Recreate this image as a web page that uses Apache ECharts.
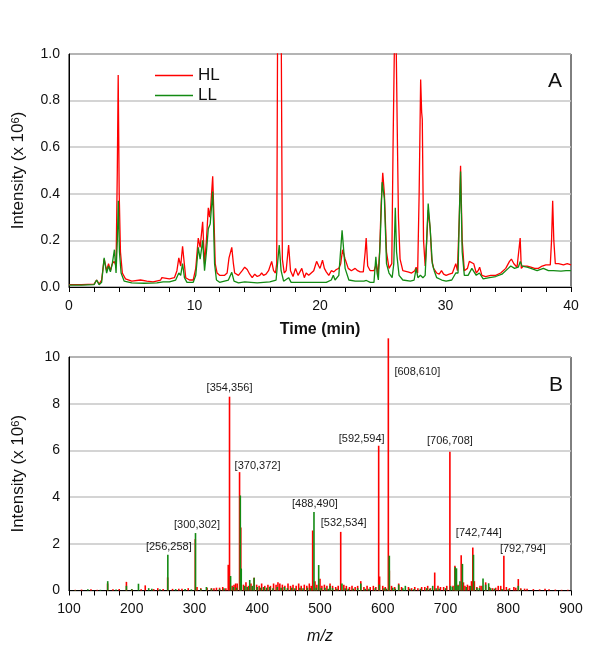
<!DOCTYPE html>
<html>
<head>
<meta charset="utf-8">
<script src="https://cdn.jsdelivr.net/npm/echarts@6/dist/echarts.min.js"></script>
<style>html,body{margin:0;padding:0;background:#fff}#c{width:600px;height:648px}</style>
</head>
<body>
<div id="c"></div>
<script>
// ---------- Panel A: chromatogram (time in min, intensity x10^6) ----------
const hlTrace = [[0,0.01],[1.0,0.01],[2.0,0.012],[2.2,0.03],[2.4,0.012],[2.6,0.03],[2.8,0.12],[3.0,0.07],[3.15,0.10],[3.3,0.07],[3.45,0.10],[3.6,0.11],[3.75,0.09],[3.85,0.5],[3.92,0.91],[4.0,0.4],[4.1,0.15],[4.25,0.06],[4.5,0.035],[5.0,0.025],[5.7,0.03],[6.2,0.025],[6.7,0.022],[7.3,0.03],[7.4,0.04],[7.5,0.032],[8.0,0.035],[8.4,0.04],[8.6,0.07],[8.75,0.125],[8.9,0.09],[9.05,0.175],[9.15,0.12],[9.3,0.04],[9.6,0.03],[9.9,0.03],[10.1,0.08],[10.3,0.21],[10.45,0.17],[10.65,0.28],[10.8,0.1],[10.95,0.2],[11.1,0.34],[11.2,0.3],[11.3,0.35],[11.45,0.475],[11.55,0.3],[11.65,0.1],[11.8,0.06],[12.0,0.05],[12.4,0.05],[12.6,0.06],[12.75,0.125],[12.85,0.12],[12.97,0.17],[13.1,0.1],[13.2,0.06],[13.5,0.05],[13.8,0.07],[14.0,0.085],[14.2,0.075],[14.4,0.055],[14.6,0.04],[14.8,0.055],[15.0,0.045],[15.2,0.05],[15.35,0.06],[15.5,0.05],[15.7,0.055],[15.9,0.07],[16.15,0.11],[16.3,0.07],[16.45,0.06],[16.55,0.1],[16.65,1.5],[16.8,1.6],[16.92,1.0],[17.0,0.12],[17.15,0.06],[17.3,0.07],[17.5,0.18],[17.65,0.07],[17.85,0.045],[18.05,0.08],[18.25,0.05],[18.4,0.045],[18.55,0.08],[18.75,0.04],[18.9,0.06],[19.1,0.05],[19.3,0.06],[19.5,0.07],[19.73,0.11],[19.9,0.09],[20.0,0.08],[20.2,0.115],[20.35,0.08],[20.5,0.065],[20.7,0.05],[20.9,0.07],[21.1,0.065],[21.3,0.075],[21.5,0.08],[21.65,0.1],[21.8,0.16],[22.0,0.12],[22.25,0.08],[22.5,0.07],[22.8,0.08],[23.0,0.07],[23.2,0.065],[23.45,0.065],[23.6,0.15],[23.68,0.21],[23.8,0.09],[24.0,0.07],[24.3,0.07],[24.5,0.1],[24.62,0.05],[24.75,0.15],[24.87,0.35],[25.0,0.49],[25.13,0.4],[25.3,0.15],[25.5,0.08],[25.72,0.1],[25.82,0.6],[25.92,1.0],[26.0,1.05],[26.08,1.0],[26.15,0.7],[26.25,0.3],[26.38,0.12],[26.6,0.07],[27.0,0.065],[27.3,0.06],[27.55,0.07],[27.66,0.085],[27.78,0.06],[27.9,0.4],[28.02,0.89],[28.1,0.75],[28.15,0.72],[28.25,0.2],[28.38,0.09],[28.5,0.2],[28.62,0.33],[28.78,0.25],[28.9,0.12],[29.05,0.08],[29.3,0.06],[29.5,0.055],[29.68,0.07],[29.85,0.055],[30.05,0.05],[30.3,0.055],[30.55,0.06],[30.82,0.1],[30.95,0.07],[31.1,0.3],[31.2,0.52],[31.33,0.2],[31.5,0.07],[31.75,0.08],[31.9,0.11],[32.05,0.115],[32.25,0.1],[32.45,0.06],[32.6,0.07],[32.72,0.085],[32.9,0.05],[33.2,0.045],[33.6,0.05],[34.0,0.05],[34.4,0.06],[34.8,0.08],[35.1,0.11],[35.25,0.12],[35.45,0.1],[35.7,0.085],[35.85,0.09],[35.95,0.21],[36.04,0.08],[36.2,0.09],[36.5,0.09],[36.8,0.085],[37.1,0.08],[37.4,0.08],[37.7,0.09],[38.0,0.095],[38.35,0.095],[38.45,0.2],[38.54,0.37],[38.63,0.2],[38.75,0.1],[39.0,0.1],[39.15,0.105],[39.4,0.095],[39.7,0.1],[40.0,0.095]];

const llTrace = [[0,0.008],[1.0,0.008],[2.0,0.01],[2.2,0.03],[2.4,0.01],[2.6,0.02],[2.8,0.125],[3.0,0.06],[3.15,0.09],[3.3,0.065],[3.45,0.1],[3.62,0.16],[3.75,0.06],[3.85,0.2],[3.93,0.37],[4.02,0.15],[4.15,0.06],[4.4,0.025],[5.0,0.018],[6.0,0.016],[7.0,0.018],[7.5,0.022],[8.0,0.022],[8.5,0.03],[8.75,0.06],[8.9,0.05],[9.05,0.1],[9.2,0.04],[9.4,0.02],[9.9,0.02],[10.1,0.05],[10.3,0.17],[10.45,0.12],[10.65,0.2],[10.8,0.07],[10.95,0.15],[11.1,0.25],[11.25,0.27],[11.45,0.41],[11.6,0.1],[11.75,0.03],[12.0,0.02],[12.7,0.03],[12.97,0.063],[13.15,0.025],[13.5,0.018],[14.0,0.022],[15.0,0.018],[16.0,0.022],[16.5,0.03],[16.75,0.18],[16.9,0.07],[17.1,0.025],[17.5,0.04],[17.7,0.02],[18.5,0.02],[19.5,0.02],[20.5,0.02],[20.9,0.03],[21.06,0.05],[21.2,0.03],[21.5,0.05],[21.76,0.243],[21.9,0.15],[22.0,0.08],[22.3,0.03],[22.8,0.025],[23.5,0.025],[23.7,0.028],[24.0,0.02],[24.3,0.02],[24.45,0.13],[24.55,0.06],[24.65,0.03],[24.8,0.2],[24.95,0.45],[25.13,0.38],[25.3,0.1],[25.5,0.06],[25.75,0.04],[25.88,0.1],[26.0,0.34],[26.1,0.15],[26.3,0.05],[26.6,0.03],[27.2,0.025],[27.5,0.03],[27.66,0.08],[27.8,0.04],[28.0,0.05],[28.2,0.04],[28.38,0.05],[28.5,0.2],[28.62,0.358],[28.78,0.25],[28.95,0.1],[29.1,0.07],[29.3,0.04],[29.7,0.03],[30.05,0.025],[30.5,0.03],[30.82,0.06],[31.0,0.06],[31.1,0.3],[31.2,0.496],[31.33,0.15],[31.5,0.05],[31.8,0.05],[32.1,0.08],[32.23,0.08],[32.45,0.05],[32.7,0.06],[33.0,0.035],[33.5,0.04],[34.0,0.045],[34.5,0.055],[35.0,0.08],[35.2,0.09],[35.5,0.08],[35.8,0.085],[35.96,0.11],[36.1,0.09],[36.5,0.085],[36.8,0.08],[37.3,0.07],[37.8,0.08],[38.2,0.07],[38.6,0.07],[39.2,0.068],[39.6,0.07],[40,0.07]];

// ---------- Panel B: mass spectrum (m/z, intensity x10^6) ----------
const hlMajorPeaks = [[161.5,0.3],[191.5,0.37],[221.5,0.22],[241.5,0.1],[257.2,0.56],[280,0.08],[301.2,2.2],[304,0.15],[331,0.1],[353.8,1.1],[355.8,8.3],[365.5,0.3],[371.8,5.07],[373.8,2.7],[395,0.55],[433,0.35],[488.3,2.57],[492,0.4],[500,0.5],[516,0.3],[533,2.51],[565,0.4],[593.5,6.2],[595,0.6],[608.9,10.8],[610.5,0.85],[625.4,0.3],[662,0.15],[671.6,0.2],[682.8,0.77],[707,5.94],[715,1.06],[717,0.9],[725,1.51],[728.6,0.35],[741.4,0.4],[743.5,1.84],[746,0.4],[755,0.2],[764,0.35],[784,0.2],[793,1.49],[809,0.15],[816,0.49],[826,0.08],[858.6,0.08]];
const hlMinorPeaks = [[110,0.03],[120,0.04],[135,0.05],[145,0.03],[170,0.05],[180,0.06],[200,0.06],[215,0.05],[235,0.06],[250,0.06],[265,0.07],[275,0.08],[290,0.1],[310,0.1],[320,0.12],[327,0.1],[335,0.12],[340,0.12],[345,0.15],[350,0.1],[360,0.2],[363,0.25],[368,0.3],[378,0.25],[382,0.35],[386,0.2],[390,0.3],[399,0.25],[403,0.2],[407,0.3],[412,0.2],[417,0.25],[421,0.2],[426,0.3],[430,0.25],[436,0.3],[440,0.25],[444,0.2],[449,0.3],[453,0.2],[457,0.25],[462,0.2],[466,0.3],[470,0.2],[475,0.25],[479,0.2],[483,0.3],[486,0.2],[495,0.25],[503,0.2],[507,0.25],[511,0.2],[520,0.2],[525,0.15],[529,0.2],[538,0.25],[542,0.2],[547,0.15],[551,0.2],[556,0.15],[560,0.2],[570,0.15],[575,0.2],[580,0.15],[585,0.2],[589,0.15],[600,0.2],[604,0.15],[614,0.2],[619,0.15],[630,0.15],[641,0.15],[646,0.1],[651,0.15],[656,0.1],[667,0.15],[676,0.1],[688,0.2],[692,0.15],[697,0.15],[702,0.2],[712,0.2],[720,0.25],[731,0.2],[735,0.25],[738,0.2],[750,0.15],[758,0.2],[770,0.15],[775,0.1],[780,0.12],[788,0.2],[797,0.15],[802,0.1],[812,0.12],[820,0.1],[830,0.08],[840,0.06],[850,0.05],[865,0.05],[875,0.04],[885,0.03],[895,0.03]];

const llMajorPeaks = [[161.7,0.4],[191.5,0.2],[210.7,0.29],[227,0.1],[257.5,1.53],[301.6,2.46],[319,0.15],[357.5,0.62],[373.0,4.07],[374.5,0.94],[388,0.45],[395,0.55],[490.4,3.36],[497.9,1.09],[516,0.2],[535,0.3],[565,0.3],[594.6,0.25],[610.5,1.49],[625.4,0.25],[636,0.2],[679.6,0.2],[708,0.2],[715.5,1.0],[717.5,0.95],[723,0.4],[727,1.14],[744.6,1.53],[759.8,0.51],[764,0.25],[768.8,0.31],[816,0.2]];
const llMinorPeaks = [[110,0.02],[130,0.05],[150,0.03],[175,0.04],[200,0.06],[232,0.08],[245,0.05],[270,0.06],[285,0.06],[295,0.05],[310,0.07],[327,0.08],[340,0.07],[347,0.1],[362,0.15],[367,0.12],[380,0.2],[384,0.15],[392,0.2],[400,0.15],[405,0.12],[410,0.15],[415,0.12],[420,0.15],[425,0.1],[432,0.15],[438,0.12],[443,0.15],[448,0.1],[455,0.12],[460,0.1],[468,0.12],[473,0.1],[480,0.12],[485,0.1],[494,0.12],[502,0.1],[508,0.12],[513,0.08],[520,0.1],[527,0.08],[540,0.1],[545,0.08],[553,0.08],[560,0.1],[572,0.08],[578,0.08],[588,0.1],[602,0.1],[606,0.08],[616,0.12],[620,0.08],[632,0.1],[643,0.08],[650,0.06],[660,0.08],[670,0.1],[675,0.08],[685,0.1],[690,0.08],[700,0.1],[711,0.15],[720,0.2],[733,0.15],[740,0.2],[750,0.12],[754,0.1],[772,0.1],[778,0.08],[790,0.06],[800,0.05],[820,0.04]];

// annotated peaks: text, m/z of the peak, intensity of the peak top
const peakLabelTexts = ['[256,258]','[300,302]','[354,356]','[370,372]','[488,490]','[532,534]','[592,594]','[608,610]','[706,708]','[742,744]','[792,794]'];
const peakLabelMz = [257.5,301.6,355.8,371.8,490.4,533,593.5,608.9,707,743.5,793];
const peakLabelIntensity = [1.53,2.46,8.3,5.07,3.36,2.51,6.2,10,5.94,1.84,1.49];

// tick settings
const timeTicks = {min:0, max:40, interval:10};
const intensityTicksA = {min:0, max:1, interval:0.2};
const mzTicks = {min:100, max:900, interval:100};
const intensityTicksB = {min:0, max:10, interval:2};

// ---------- styles ----------
const RED = '#ff0000', GREEN = '#138a13';
const FONT = 'Liberation Sans, Arial, sans-serif';
const labelOffsets = [[1,-8],[1.5,-8],[0,-9],[18,-6],[1,-8],[3,-9],[-17,-7],[29,15],[0,-11],[6,-15],[19,-7]];

function stickSeries(name, data, color, xi){
  return {
    name, type:'custom', xAxisIndex:xi, yAxisIndex:xi, data, clip:false,
    renderItem:(params, api)=>{
      const p0 = api.coord([api.value(0), 0]);
      const p1 = api.coord([api.value(0), api.value(1)]);
      return {type:'line', shape:{x1:p0[0], y1:p0[1], x2:p1[0], y2:p1[1]},
        style:{stroke:color, lineWidth:1.6}};
    }
  };
}

const axisText = {color:'#111', fontSize:14, fontFamily:FONT};
function yAxisCfg(t, gi, fmt){
  return {
    type:'value', gridIndex:gi, min:t.min, max:t.max, interval:t.interval,
    axisLine:{show:true, lineStyle:{color:'#000', width:1}},
    axisTick:{show:false},
    axisLabel:Object.assign({margin:9, formatter:fmt}, axisText),
    splitLine:{show:true, lineStyle:{color:'#c6c6c6', width:1.5}},
    name:'Intensity (x 10{sup|6})', nameLocation:'middle', nameGap:42, nameRotate:90,
    nameTextStyle:{fontSize:17, color:'#111', fontFamily:FONT,
      rich:{sup:{fontSize:11, color:'#111', fontFamily:FONT, verticalAlign:'top', padding:[0,0,6,0]}}}
  };
}
function xAxisCfg(t, gi, name, nameStyle, gap){
  return {
    type:'value', gridIndex:gi, min:t.min, max:t.max, interval:t.interval,
    axisLine:{show:true, onZero:false, lineStyle:{color:'#000', width:1}},
    axisTick:{show:true, length:5, lineStyle:{color:'#000'}},
    minorTick:{show:true, splitNumber:5, length:5, lineStyle:{color:'#000'}},
    axisLabel:Object.assign({margin:12}, axisText),
    splitLine:{show:false},
    name, nameLocation:'middle', nameGap:gap,
    nameTextStyle:Object.assign({color:'#111', fontFamily:FONT, fontSize:16}, nameStyle)
  };
}

const chart = echarts.init(document.getElementById('c'), null, {renderer:'canvas'});
chart.setOption({
  animation:false,
  backgroundColor:'#fff',
  title:[
    {text:'A', left:543, top:66, textStyle:{fontSize:21, fontWeight:'normal', color:'#111', fontFamily:FONT}},
    {text:'B', left:544, top:370, textStyle:{fontSize:21, fontWeight:'normal', color:'#111', fontFamily:FONT}}
  ],
  legend:{
    data:['HL','LL'], orient:'vertical', left:150, top:61, itemGap:1,
    icon:'rect', itemWidth:38, itemHeight:1.5,
    textStyle:{fontSize:17, color:'#111', fontFamily:FONT, lineHeight:19}
  },
  grid:[
    {left:69, top:54, width:502, height:233, show:true, borderColor:'#000', borderWidth:1, backgroundColor:'transparent'},
    {left:69, top:357, width:502, height:233.5, show:true, borderColor:'#000', borderWidth:1, backgroundColor:'transparent'}
  ],
  xAxis:[
    xAxisCfg(timeTicks, 0, 'Time (min)', {fontWeight:'bold'}, 35),
    xAxisCfg(mzTicks, 1, 'm/z', {fontStyle:'italic'}, 38)
  ],
  yAxis:[
    yAxisCfg(intensityTicksA, 0, v=>v.toFixed(1)),
    yAxisCfg(intensityTicksB, 1, v=>String(v))
  ],
  series:[
    {name:'HL', type:'line', xAxisIndex:0, yAxisIndex:0, data:hlTrace, showSymbol:false, symbol:'none',
      lineStyle:{color:RED, width:1.3}, itemStyle:{color:RED}, z:2},
    {name:'LL', type:'line', xAxisIndex:0, yAxisIndex:0, data:llTrace, showSymbol:false, symbol:'none',
      lineStyle:{color:GREEN, width:1.3}, itemStyle:{color:GREEN}, z:3},
    Object.assign(stickSeries('HL', hlMajorPeaks.concat(hlMinorPeaks), RED, 1), {z:2, itemStyle:{color:RED}}),
    Object.assign(stickSeries('LL', llMajorPeaks.concat(llMinorPeaks), GREEN, 1), {z:3, itemStyle:{color:GREEN}}),
    {type:'scatter', xAxisIndex:1, yAxisIndex:1, symbolSize:0, z:5, silent:true,
      itemStyle:{color:'#222', opacity:1},
      data:peakLabelMz.map((m,i)=>({value:[m, peakLabelIntensity[i]],
        label:{show:true, position:[0,0], align:'center', verticalAlign:'middle',
          formatter:peakLabelTexts[i], offset:labelOffsets[i],
          fontSize:11, color:'#1a1a1a', opacity:1, textBorderWidth:0, textBorderColor:'transparent', fontFamily:FONT}}))}
  ]
});
</script>
</body>
</html>
